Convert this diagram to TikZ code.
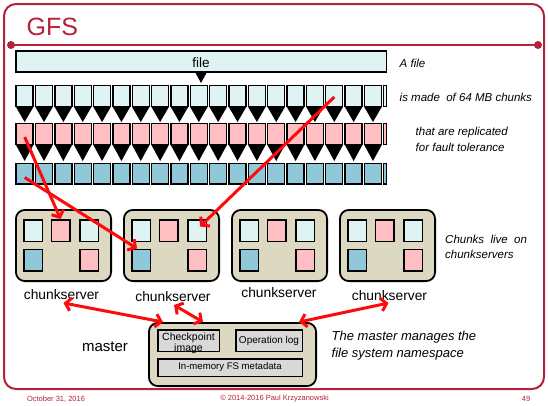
\documentclass[tikz,border=0pt]{standalone}
\usepackage{fontspec}
\setmainfont{Liberation Sans}
\usetikzlibrary{arrows.meta,calc}
\definecolor{framered}{HTML}{B5203A}
\definecolor{cfile}{HTML}{DFF3F3}
\definecolor{cpink}{HTML}{FFBEC2}
\definecolor{cblue}{HTML}{91C8D9}
\definecolor{beige}{HTML}{DDD8C2}
\definecolor{mgray}{HTML}{D9D9D9}
\definecolor{arrowred}{HTML}{FF0A0A}
\begin{document}
\begin{tikzpicture}[x=1pt,y=-1pt,
  rowchunk/.style={draw=black,line width=1.4pt,minimum width=17pt,minimum height=20.6pt,inner sep=0pt},
  srvchunk/.style={draw=black,line width=1.5pt,minimum width=18.5pt,minimum height=21.5pt,inner sep=0pt},
  server/.style={draw=black,line width=1.8pt,fill=beige,rounded corners=9pt,minimum width=95.2pt,minimum height=71.2pt,inner sep=0pt},
  graybox/.style={draw=black,line width=1.5pt,fill=mgray,inner sep=0pt},
  srvlabel/.style={font=\fontsize{13.8}{16}\selectfont,inner sep=0pt},
  itext/.style={font=\fontsize{11.5}{16}\selectfont\itshape,inner sep=0pt,align=left,anchor=west},
  foot/.style={font=\fontsize{7.5}{9}\selectfont,text=framered,inner sep=0pt},
  redarrow/.style={draw=arrowred,line width=3pt,-{Straight Barb[length=5.5pt,width=13pt]}},
  reddouble/.style={draw=arrowred,line width=3pt,{Straight Barb[length=5.5pt,width=13pt]}-{Straight Barb[length=5.5pt,width=13pt]}}
]
\useasboundingbox (0,0) rectangle (548,405);
% frame
\draw[framered,line width=2pt,rounded corners=12pt] (4,4) rectangle (544,389);
\draw[framered,line width=2.5pt] (11,45) -- (538,45);
\fill[framered] (11,45) circle (4pt) (538,45) circle (4pt);
\node[text=framered,font=\fontsize{25}{30}\selectfont,inner sep=0pt,anchor=west] (title) at (26.5,27) {GFS};

% file bar
\node[draw=black,line width=1.5pt,fill=cfile,minimum width=370.5pt,minimum height=21pt,inner sep=0pt] (file) at (201,61.5) {};
\node[font=\fontsize{13.5}{16}\selectfont,inner sep=0pt] (filelbl) at (201,63) {file};
\fill[black] (195,72) -- (207,72) -- (201,83) -- cycle;

% chunk rows
\foreach \i in {0,...,18} {
  \pgfmathsetmacro\cx{15+\i*19.35+9.675}
  \node[rowchunk,fill=cfile] (r1c\i) at (\cx,96) {};
  \node[rowchunk,fill=cpink] (r2c\i) at (\cx,134) {};
  \node[rowchunk,fill=cblue] (r3c\i) at (\cx,173.5) {};
  \fill[black] (\cx-9,106.5) -- (\cx+9,106.5) -- (\cx,122) -- cycle;
  \fill[black] (\cx-9,144.5) -- (\cx+9,144.5) -- (\cx,161) -- cycle;
}
\draw[line width=1.4pt,fill=cfile] (383.6,85.7) rectangle (386.4,106.3);
\draw[line width=1.4pt,fill=cpink] (383.6,123.7) rectangle (386.4,144.3);
\draw[line width=1.4pt,fill=cblue] (383.6,163.2) rectangle (386.4,183.8);

% chunkservers
\foreach \s/\lx/\ly in {1/61.5/295,2/173/297,3/279/293,4/389.5/296} {
  \pgfmathsetmacro\sx{15+(\s-1)*108}
  \node[server] (s\s) at (\sx+48.5,245.5) {};
  \node[srvchunk,fill=cfile] (s\s a) at (\sx+18,230.5) {};
  \node[srvchunk,fill=cpink] (s\s b) at (\sx+45.5,230.5) {};
  \node[srvchunk,fill=cfile] (s\s c) at (\sx+74,230.5) {};
  \node[srvchunk,fill=cblue] (s\s d) at (\sx+18,260) {};
  \node[srvchunk,fill=cpink] (s\s e) at (\sx+74,260) {};
  \node[srvlabel] (l\s) at (\lx,\ly) {chunkserver};
}

% master
\node[server,minimum width=167.2pt,minimum height=63.2pt] (m) at (232.5,354.5) {};
\node[graybox,minimum width=61.5pt,minimum height=21.5pt] (ckpt) at (188.5,340.5) {};
\node[font=\fontsize{10.5}{11}\selectfont,align=center,inner sep=0pt] (ckptlbl) at (188.5,343) {Checkpoint\\image};
\node[graybox,minimum width=66.5pt,minimum height=21.5pt,font=\fontsize{10}{12}\selectfont] (oplog) at (269,340.5) {Operation log};
\node[graybox,minimum width=144.5pt,minimum height=17.5pt,font=\fontsize{9.6}{12}\selectfont] (meta) at (230,367.5) {In-memory FS metadata};
\node[font=\fontsize{15}{18}\selectfont,inner sep=0pt] (mlbl) at (105,347) {master};

% descriptions
\node[itext] (t1) at (399.5,63) {A file};
\node[itext] (t2) at (399.5,97) {is made\ \ of 64 MB chunks};
\node[itext] (t3) at (415.5,139) {that are replicated\\for fault tolerance};
\node[itext,font=\fontsize{11.5}{15}\selectfont\itshape] (t4) at (445,246.5) {Chunks\ \ live\ \ on\\chunkservers};
\node[itext,font=\fontsize{13}{17}\selectfont\itshape] (t5) at (331.5,345.5) {The master manages the\\file system namespace};

% red arrows
\draw[redarrow] ([yshift=-3pt]r2c0.center) -- (s1b.north);
\draw[redarrow] ([yshift=-4pt]r3c0.center) -- ([xshift=-4pt]s2d.north);
\draw[redarrow] ([yshift=-1pt]r1c16.center) -- ([xshift=3pt,yshift=4pt]s2c.center);
\draw[reddouble] ($(l1.center)+(2,8)$) -- ($(m.north west)+(15,0)$);
\draw[reddouble] ($(l2.center)+(1,8)$) -- ($(m.north west)+(55,0)$);
\draw[reddouble] ($(l4.center)+(-1,7)$) -- ($(m.north east)+(-18,0)$);

% footer
\node[foot] (f1) at (56,399) {October 31, 2016};
\node[foot] (f2) at (274.5,399) {© 2014-2016 Paul Krzyzanowski};
\node[foot] (f3) at (526,399) {49};
\end{tikzpicture}
\end{document}
